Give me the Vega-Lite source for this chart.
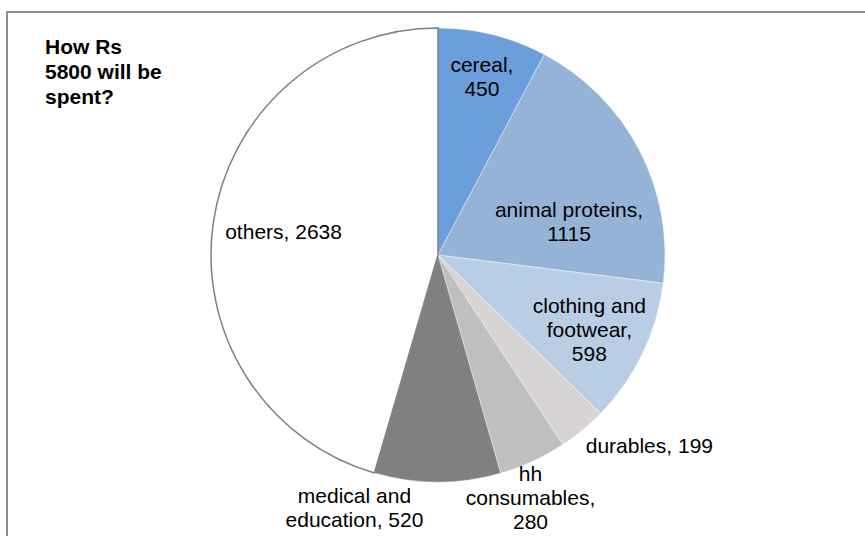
{
  "$schema": "https://vega.github.io/schema/vega-lite/v6.json",
  "autosize": "none",
  "width": 862,
  "height": 486,
  "padding": {"left": 7, "top": 12, "right": 10, "bottom": 40},
  "background": "white",
  "config": {"view": {"stroke": null}, "font": "Liberation Sans"},
  "title": {
    "text": ["How Rs", "5800 will be", "spent?"],
    "anchor": "start",
    "frame": "group",
    "orient": "top",
    "font": "Liberation Sans",
    "fontSize": 21,
    "fontWeight": "bold",
    "lineHeight": 25,
    "color": "#000000",
    "baseline": "top",
    "dx": 38,
    "dy": 164
  },
  "datasets": {
    "spend": [
      {"order": 1, "category": "cereal", "value": 450, "label": ["cereal,", "450"]},
      {"order": 2, "category": "animal proteins", "value": 1115, "label": ["animal proteins,", "1115"]},
      {"order": 3, "category": "clothing and footwear", "value": 598, "label": ["clothing and", "footwear,", "598"]},
      {"order": 4, "category": "durables", "value": 199, "label": ["durables, 199"]},
      {"order": 5, "category": "hh consumables", "value": 280, "label": ["hh", "consumables,", "280"]},
      {"order": 6, "category": "medical and education", "value": 520, "label": ["medical and", "education, 520"]},
      {"order": 7, "category": "others", "value": 2638, "label": ["others, 2638"]}
    ]
  },
  "layer": [
    {
      "data": {"values": [{"frame": "chart area"}]},
      "mark": {"type": "rect", "fillOpacity": 0, "stroke": "#8a8a8a", "strokeWidth": 2},
      "encoding": {
        "x": {"datum": 0, "type": "quantitative", "scale": {"domain": [0, 1]}, "axis": null},
        "x2": {"datum": 1.1},
        "y": {"datum": 1, "type": "quantitative", "scale": {"domain": [0, 1]}, "axis": null},
        "y2": {"datum": -0.2}
      }
    },
    {
      "data": {"name": "spend"},
      "mark": {"type": "arc", "outerRadius": 227},
      "encoding": {
        "theta": {"field": "value", "type": "quantitative", "stack": true},
        "order": {"field": "order", "type": "quantitative"},
        "color": {
          "field": "category",
          "type": "nominal",
          "legend": null,
          "scale": {
            "domain": ["cereal", "animal proteins", "clothing and footwear", "durables", "hh consumables", "medical and education", "others"],
            "range": ["#6b9fdb", "#95b3d7", "#b9cde5", "#d8d4d4", "#bfbfbf", "#808080", "#ffffff"]
          }
        },
        "stroke": {"condition": {"test": "datum.category === 'others'", "value": "#7f7f7f"}, "value": "#ffffff"},
        "strokeWidth": {"condition": {"test": "datum.category === 'others'", "value": 1.5}, "value": 0.4}
      }
    },
    {
      "data": {"name": "spend"},
      "mark": {"type": "text", "radius": 182, "dy": -12, "fontSize": 21, "lineHeight": 24, "font": "Liberation Sans"},
      "encoding": {
        "theta": {"field": "value", "type": "quantitative", "stack": true},
        "order": {"field": "order", "type": "quantitative"},
        "text": {"condition": {"test": "datum.category === 'cereal'", "field": "label"}, "value": ""},
        "color": {"value": "#000000"}
      }
    },
    {
      "data": {"name": "spend"},
      "mark": {"type": "text", "radius": 133, "dx": 13, "dy": 17, "fontSize": 21, "lineHeight": 24, "font": "Liberation Sans"},
      "encoding": {
        "theta": {"field": "value", "type": "quantitative", "stack": true},
        "order": {"field": "order", "type": "quantitative"},
        "text": {"condition": {"test": "datum.category === 'animal proteins'", "field": "label"}, "value": ""},
        "color": {"value": "#000000"}
      }
    },
    {
      "data": {"name": "spend"},
      "mark": {"type": "text", "radius": 168, "dy": -21, "fontSize": 21, "lineHeight": 24, "font": "Liberation Sans"},
      "encoding": {
        "theta": {"field": "value", "type": "quantitative", "stack": true},
        "order": {"field": "order", "type": "quantitative"},
        "text": {"condition": {"test": "datum.category === 'clothing and footwear'", "field": "label"}, "value": ""},
        "color": {"value": "#000000"}
      }
    },
    {
      "data": {"name": "spend"},
      "mark": {"type": "text", "radius": 280, "dx": 33, "dy": -24, "fontSize": 21, "lineHeight": 24, "font": "Liberation Sans"},
      "encoding": {
        "theta": {"field": "value", "type": "quantitative", "stack": true},
        "order": {"field": "order", "type": "quantitative"},
        "text": {"condition": {"test": "datum.category === 'durables'", "field": "label"}, "value": ""},
        "color": {"value": "#000000"}
      }
    },
    {
      "data": {"name": "spend"},
      "mark": {"type": "text", "radius": 262, "dx": -17, "dy": -18, "fontSize": 21, "lineHeight": 24, "font": "Liberation Sans"},
      "encoding": {
        "theta": {"field": "value", "type": "quantitative", "stack": true},
        "order": {"field": "order", "type": "quantitative"},
        "text": {"condition": {"test": "datum.category === 'hh consumables'", "field": "label"}, "value": ""},
        "color": {"value": "#000000"}
      }
    },
    {
      "data": {"name": "spend"},
      "mark": {"type": "text", "radius": 254, "dx": -83, "dy": -12, "fontSize": 21, "lineHeight": 24, "font": "Liberation Sans"},
      "encoding": {
        "theta": {"field": "value", "type": "quantitative", "stack": true},
        "order": {"field": "order", "type": "quantitative"},
        "text": {"condition": {"test": "datum.category === 'medical and education'", "field": "label"}, "value": ""},
        "color": {"value": "#000000"}
      }
    },
    {
      "data": {"name": "spend"},
      "mark": {"type": "text", "radius": 156, "fontSize": 21, "lineHeight": 24, "font": "Liberation Sans"},
      "encoding": {
        "theta": {"field": "value", "type": "quantitative", "stack": true},
        "order": {"field": "order", "type": "quantitative"},
        "text": {"condition": {"test": "datum.category === 'others'", "field": "label"}, "value": ""},
        "color": {"value": "#000000"}
      }
    }
  ]
}
